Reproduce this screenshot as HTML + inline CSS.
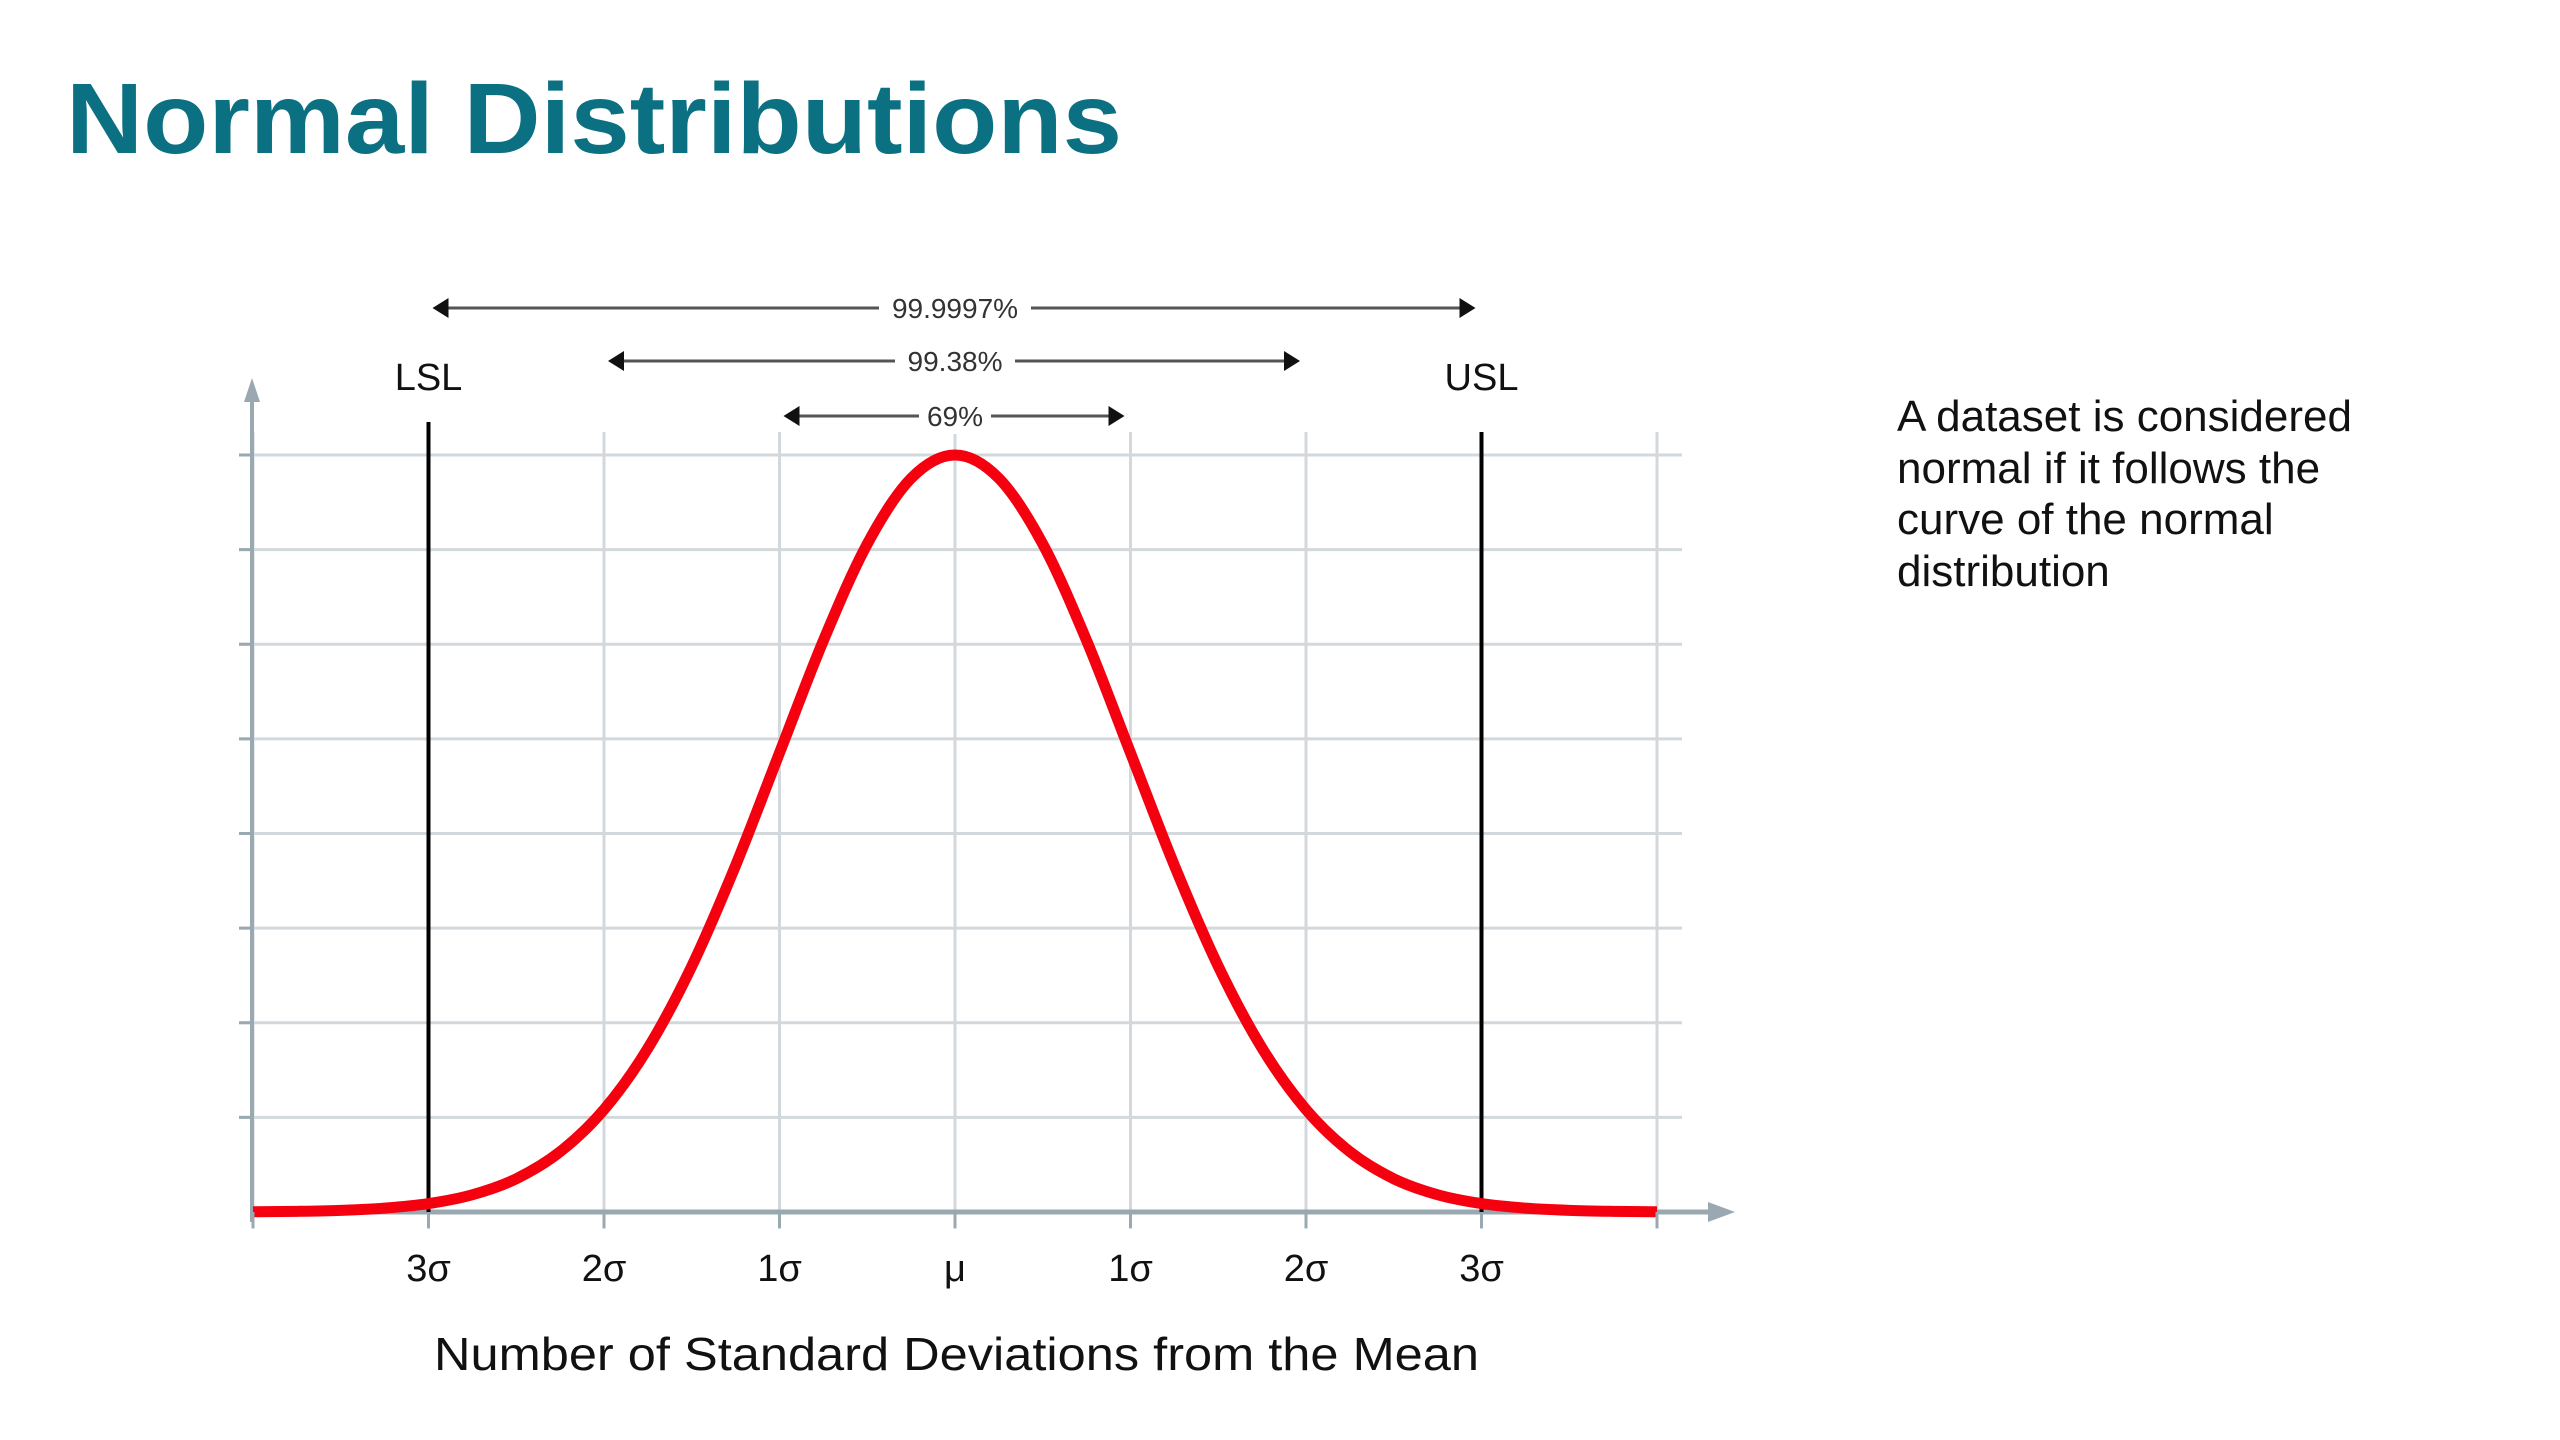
<!DOCTYPE html>
<html><head><meta charset="utf-8"><style>
html,body{margin:0;padding:0;background:#fff;}
svg{display:block;font-family:"Liberation Sans",sans-serif;}
</style></head><body>
<svg id="chart" width="2560" height="1440" viewBox="0 0 2560 1440" xmlns="http://www.w3.org/2000/svg">
<text x="66" y="153" font-size="100" font-weight="bold" fill="#0b7182" textLength="1056" lengthAdjust="spacingAndGlyphs">Normal Distributions</text>
<g font-size="44" fill="#111">
<text x="1897" y="431">A dataset is considered</text>
<text x="1897" y="483">normal if it follows the</text>
<text x="1897" y="534">curve of the normal</text>
<text x="1897" y="586">distribution</text>
</g>
<g id="grid"></g>
<g id="axes"></g>
<g id="limits"></g>
<g id="curve"></g>
<g id="ranges"></g>
<g id="ticks" font-size="38" fill="#111" text-anchor="middle"></g>
<text x="434" y="1370" font-size="46" fill="#111" textLength="1045" lengthAdjust="spacingAndGlyphs">Number of Standard Deviations from the Mean</text>
</svg>
<script>
const zValues = [-4,-3.75,-3.5,-3.25,-3,-2.75,-2.5,-2.25,-2,-1.75,-1.5,-1.25,-1,-0.75,-0.5,-0.25,0,0.25,0.5,0.75,1,1.25,1.5,1.75,2,2.25,2.5,2.75,3,3.25,3.5,3.75,4];
const density = [0.0003,0.0009,0.0022,0.0051,0.0111,0.0228,0.0439,0.0796,0.1353,0.2163,0.3247,0.4578,0.6065,0.7548,0.8825,0.9692,1,0.9692,0.8825,0.7548,0.6065,0.4578,0.3247,0.2163,0.1353,0.0796,0.0439,0.0228,0.0111,0.0051,0.0022,0.0009,0.0003];
const tickSigma = [-3,-2,-1,0,1,2,3];
const tickLabels = ["3σ","2σ","1σ","μ","1σ","2σ","3σ"];
const gridSigma = [-4,-3,-2,-1,0,1,2,3,4];
const gridLevels = [0.125,0.25,0.375,0.5,0.625,0.75,0.875,1];
const limitSigma = [-3,3];
const limitLabels = ["LSL","USL"];
const rangeSigma = [3,2,1];
const rangeLabels = ["99.9997%","99.38%","69%"];

const NS="http://www.w3.org/2000/svg";
const X0=955, SX=175.5, Y0=1212, Y1=455;
const xs=s=>X0+SX*s;
const ys=v=>Y0-(Y0-Y1)*v;
function mk(tag,parent,attrs){const e=document.createElementNS(NS,tag);for(const k in attrs)e.setAttribute(k,attrs[k]);parent.appendChild(e);return e;}

const grid=document.getElementById('grid');
gridSigma.forEach(s=>{const l=mk('line',grid,{x1:xs(s),x2:xs(s),y1:432,y2:1229,stroke:'#d3d8dc','stroke-width':3});

});
gridLevels.forEach(v=>{const l=mk('line',grid,{x1:239,x2:1682,y1:ys(v),y2:ys(v),stroke:'#d3d8dc','stroke-width':3});

});

const axes=document.getElementById('axes');
const xa=mk('line',axes,{x1:252,x2:1715,y1:Y0,y2:Y0,stroke:'#9aa8b2','stroke-width':5});


const xah=mk('polygon',axes,{points:'1735,1212 1708,1202 1708,1222',fill:'#9aa8b2'});


const ya=mk('line',axes,{x1:252,x2:252,y1:1222,y2:395,stroke:'#9aa8b2','stroke-width':4});


const yah=mk('polygon',axes,{points:'252,378 244,402 260,402',fill:'#9aa8b2'});



const lim=document.getElementById('limits');
limitSigma.forEach((s,i)=>{
 const l=mk('line',lim,{x1:xs(s),x2:xs(s),y1:i?432:422,y2:Y0,stroke:'#000','stroke-width':4});
 
 
 const t=mk('text',lim,{x:xs(s),y:390,'font-size':38,'text-anchor':'middle',fill:'#111'});
 t.textContent=limitLabels[i];
 
 
});

const pts=zValues.map((z,i)=>[xs(z),ys(density[i])]);
let d='M'+pts[0][0]+','+pts[0][1];
for(let i=0;i<pts.length-1;i++){
 const p0=pts[Math.max(0,i-1)],p1=pts[i],p2=pts[i+1],p3=pts[Math.min(pts.length-1,i+2)];
 d+=' C'+(p1[0]+(p2[0]-p0[0])/6)+','+(p1[1]+(p2[1]-p0[1])/6)+' '+(p2[0]-(p3[0]-p1[0])/6)+','+(p2[1]-(p3[1]-p1[1])/6)+' '+p2[0]+','+p2[1];
}
const cp=mk('path',document.getElementById('curve'),{d:d,fill:'none',stroke:'#f5000f','stroke-width':11,'stroke-linecap':'butt'});



const rg=document.getElementById('ranges');
const rangeY=[308,361,416];
rangeSigma.forEach((s,i)=>{
 const y=rangeY[i], xl=xs(-s)+4, xr=xs(s)-6;
 const g=mk('g',rg,{});
 
 
 mk('line',g,{x1:xl+10,x2:xr-10,y1:y,y2:y,stroke:'#555','stroke-width':3});
 mk('polygon',g,{points:`${xl},${y} ${xl+16},${y-10} ${xl+16},${y+10}`,fill:'#111'});
 mk('polygon',g,{points:`${xr},${y} ${xr-16},${y-10} ${xr-16},${y+10}`,fill:'#111'});
 const w=rangeLabels[i].length*16+24;
 mk('rect',g,{x:X0-w/2,y:y-18,width:w,height:36,fill:'#fff'});
 const t=mk('text',g,{x:X0,y:y+10,'font-size':28,'text-anchor':'middle',fill:'#333'});
 t.textContent=rangeLabels[i];
});

const tk=document.getElementById('ticks');
gridSigma.forEach(s=>{const l=mk('line',tk,{x1:xs(s),x2:xs(s),y1:Y0,y2:1228,stroke:'#9aa8b2','stroke-width':3});

});
gridLevels.forEach(v=>{const l=mk('line',tk,{x1:239,x2:252,y1:ys(v),y2:ys(v),stroke:'#9aa8b2','stroke-width':3});

});
tickSigma.forEach((s,i)=>{const t=mk('text',tk,{x:xs(s),y:1281});
t.textContent=tickLabels[i];

});
</script>
</body></html>
